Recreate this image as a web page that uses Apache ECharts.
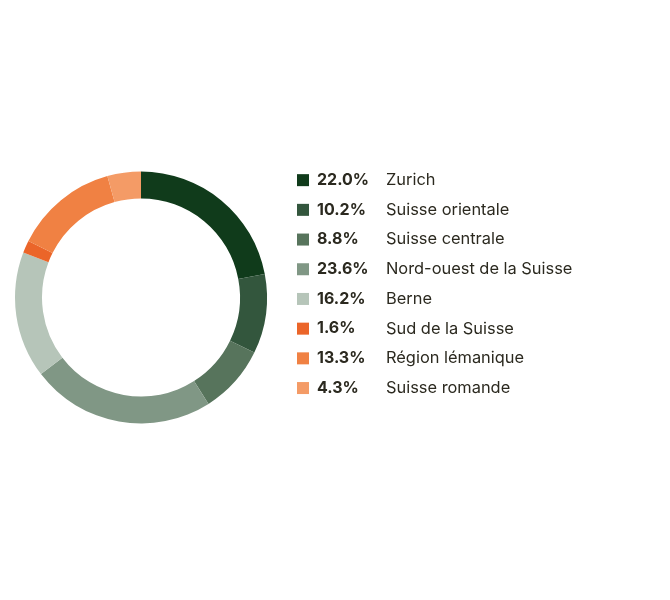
<!DOCTYPE html>
<html>
<head>
<meta charset="utf-8">
<script src="https://cdn.jsdelivr.net/npm/echarts@6/dist/echarts.min.js"></script>
<style>
  html, body { margin: 0; padding: 0; background: #fff; }
  #graphic { width: 670px; height: 600px; }
</style>
</head>
<body>
<div id="graphic"></div>
<script>
// regions and their shares (%)
var regions = ['Zurich', 'Suisse orientale', 'Suisse centrale', 'Nord-ouest de la Suisse',
               'Berne', 'Sud de la Suisse', 'Région lémanique', 'Suisse romande'];
var shares = [22.0, 10.2, 8.8, 23.6, 16.2, 1.6, 13.3, 4.3];
var colors = ['#103b1b', '#33563d', '#57745c', '#809785', '#b6c5b9', '#eb6529', '#f08143', '#f49b66'];

var textColor = '#2b291f';
var fontName = 'Inter';

function getPieData(){
    var ret = [];
    for(var i=0; i<regions.length; i++){
        ret.push({ name: regions[i], value: shares[i], itemStyle: { color: colors[i] } });
    }
    return ret;
}

function getOption(){
    var option = {
        animation: false,
        legend: {
            orient: 'vertical',
            left: 292,
            top: 160.3,
            itemWidth: 12,
            itemHeight: 12,
            itemGap: 0,
            icon: 'rect',
            selectedMode: false,
            data: regions,
            formatter: function(name){
                var idx = regions.indexOf(name);
                return '{pct|' + shares[idx].toFixed(1) + '%}{nm|' + name + '}';
            },
            textStyle: {
                color: textColor,
                fontFamily: fontName,
                fontSize: 16,
                lineHeight: 29.7,
                rich: {
                    pct: { fontWeight: 'bold', fontSize: 16, fontFamily: fontName, color: textColor,
                           width: 69, padding: [0, 0, 0, 3], lineHeight: 29.7 },
                    nm: { fontSize: 16.4, fontFamily: fontName, color: textColor, lineHeight: 29.7 }
                }
            }
        },
        series: [{
            type: 'pie',
            center: [141, 297.5],
            radius: [99, 126],
            startAngle: 90,
            clockwise: true,
            label: { show: false },
            labelLine: { show: false },
            silent: true,
            itemStyle: { borderWidth: 0 },
            data: getPieData()
        }]
    };
    return option;
}

var graphic = echarts.init(document.getElementById('graphic'));
graphic.setOption(getOption());
</script>
</body>
</html>
